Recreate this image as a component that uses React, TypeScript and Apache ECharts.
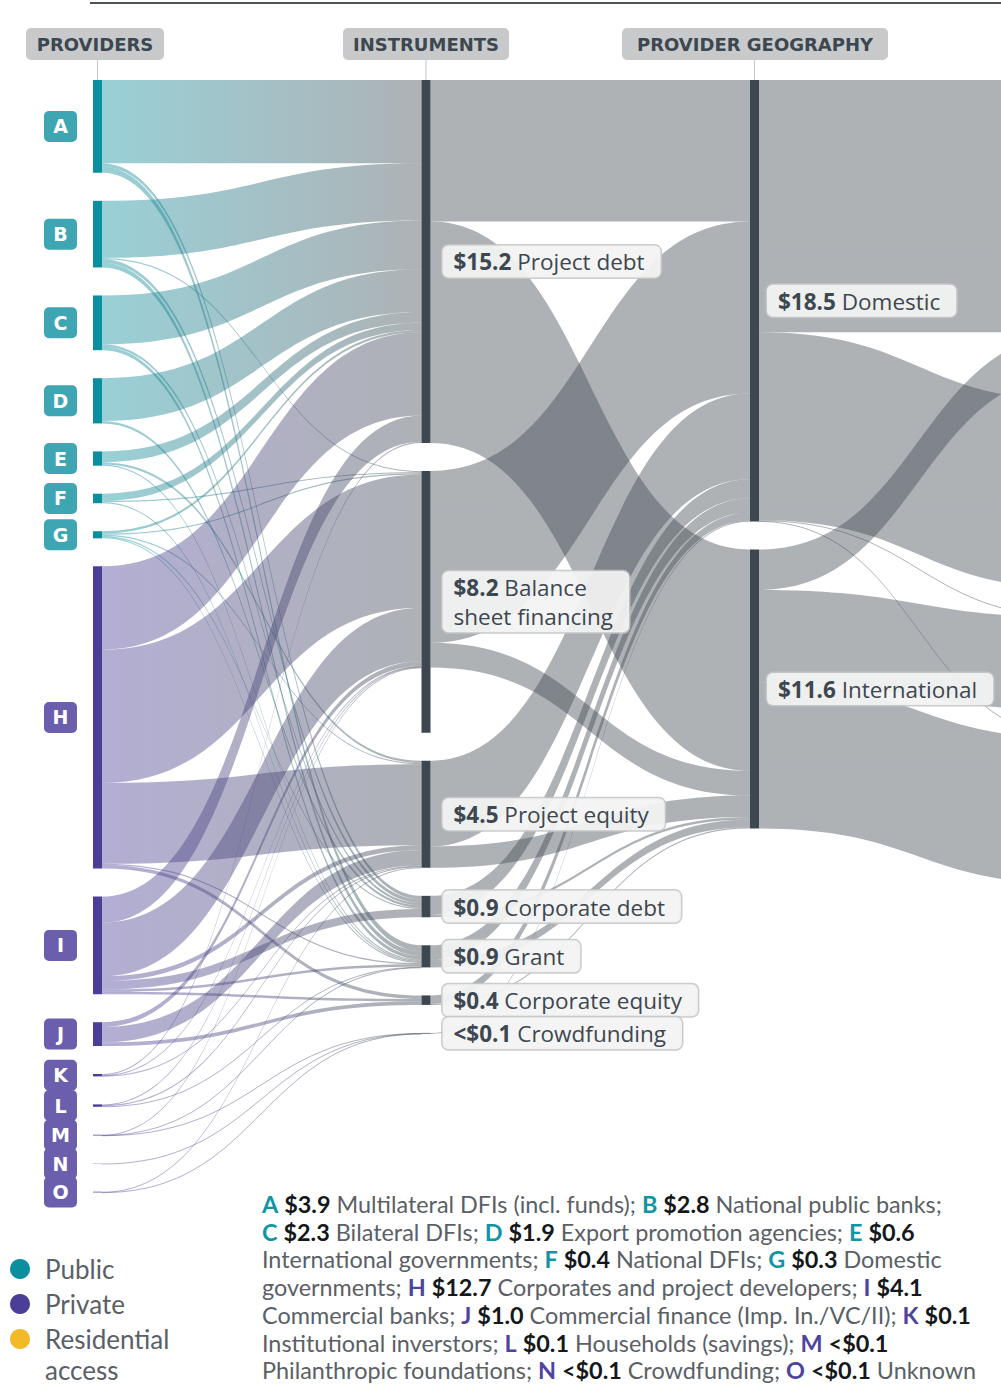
import React, { useEffect, useRef } from 'react';
import * as echarts from 'echarts';

// ---------- DATA ----------
const providerIds = ['A', 'B', 'C', 'D', 'E', 'F', 'G', 'H', 'I', 'J', 'K', 'L', 'M', 'N', 'O'];
const providerKinds = ['public', 'public', 'public', 'public', 'public', 'public', 'public',
  'private', 'private', 'private', 'private', 'private', 'private', 'private', 'private'];
const providerAmountLabels = ['$3.9', '$2.8', '$2.3', '$1.9', '$0.6', '$0.4', '$0.3', '$12.7', '$4.1', '$1.0', '$0.1', '$0.1', '<$0.1', '<$0.1', '<$0.1'];

const instrumentNames = ['Project debt', 'Balance sheet financing', 'Project equity', 'Corporate debt', 'Grant', 'Corporate equity', 'Crowdfunding'];
const instrumentDisplay = ['Project debt', 'Balance\nsheet financing', 'Project equity', 'Corporate debt', 'Grant', 'Corporate equity', 'Crowdfunding'];
const instrumentAmountLabels = ['$15.2', '$8.2', '$4.5', '$0.9', '$0.9', '$0.4', '<$0.1'];
// extent of the drawn bar in the reference (balance sheet bar includes internal gaps)
const instrumentBarExtent: (number | null)[] = [null, 11.0, null, null, null, null, null];

const geographyNames = ['Domestic', 'International'];
const geographyAmountLabels = ['$18.5', '$11.6'];

// next stage continues beyond the right edge of the picture
const destinationNames = ['Next stage 1', 'Next stage 2', 'Next stage 3', 'Next stage 4'];

const providerToInstrument: [string, string, number][] = [
  ['A', 'Project debt', 3.5], ['A', 'Corporate debt', 0.15], ['A', 'Grant', 0.25],
  ['B', 'Project debt', 2.4], ['B', 'Balance sheet financing', 0.05], ['B', 'Corporate debt', 0.15], ['B', 'Grant', 0.2],
  ['C', 'Project debt', 2.05], ['C', 'Corporate debt', 0.1], ['C', 'Grant', 0.15],
  ['D', 'Project debt', 1.8], ['D', 'Corporate debt', 0.1],
  ['E', 'Project debt', 0.45], ['E', 'Project equity', 0.1], ['E', 'Grant', 0.05],
  ['F', 'Project debt', 0.3], ['F', 'Balance sheet financing', 0.05], ['F', 'Grant', 0.05],
  ['G', 'Project debt', 0.1], ['G', 'Balance sheet financing', 0.05], ['G', 'Project equity', 0.05], ['G', 'Corporate debt', 0.05], ['G', 'Grant', 0.05],
  ['H', 'Project debt', 3.5], ['H', 'Balance sheet financing', 5.6], ['H', 'Project equity', 3.4], ['H', 'Grant', 0.05], ['H', 'Corporate equity', 0.15],
  ['I', 'Project debt', 1.1], ['I', 'Balance sheet financing', 2.25], ['I', 'Project equity', 0.2], ['I', 'Corporate debt', 0.35], ['I', 'Grant', 0.1], ['I', 'Corporate equity', 0.1],
  ['J', 'Balance sheet financing', 0.2], ['J', 'Project equity', 0.65], ['J', 'Corporate equity', 0.15],
  ['K', 'Project debt', 0.05], ['K', 'Balance sheet financing', 0.02], ['K', 'Project equity', 0.03],
  ['L', 'Balance sheet financing', 0.03], ['L', 'Project equity', 0.05], ['L', 'Grant', 0.02],
  ['M', 'Balance sheet financing', 0.01], ['M', 'Grant', 0.01], ['M', 'Crowdfunding', 0.01],
  ['N', 'Crowdfunding', 0.01],
  ['O', 'Project equity', 0.02], ['O', 'Crowdfunding', 0.01],
];

const instrumentToGeography: [string, string, number][] = [
  ['Project debt', 'Domestic', 5.95], ['Project debt', 'International', 9.3],
  ['Balance sheet financing', 'Domestic', 7.22], ['Balance sheet financing', 'International', 1.04],
  ['Project equity', 'Domestic', 3.6], ['Project equity', 'International', 0.9],
  ['Corporate debt', 'Domestic', 0.8], ['Corporate debt', 'International', 0.1],
  ['Grant', 'Domestic', 0.6], ['Grant', 'International', 0.33],
  ['Corporate equity', 'Domestic', 0.35], ['Corporate equity', 'International', 0.05],
  ['Crowdfunding', 'Domestic', 0.03],
];

const geographyToNext: [string, string, number][] = [
  ['Domestic', 'Next stage 1', 10.6], ['Domestic', 'Next stage 2', 7.9], ['Domestic', 'Next stage 3', 0.03], ['Domestic', 'Next stage 4', 0.02],
  ['International', 'Next stage 1', 1.7], ['International', 'Next stage 3', 3.9], ['International', 'Next stage 4', 6.12],
];

const headerTitles = ['PROVIDERS', 'INSTRUMENTS', 'PROVIDER GEOGRAPHY'];

const legendNames = ['Public', 'Private', 'Residential\naccess'];

const footnoteLines: string[][] = [
  ['#A', 'Multilateral DFIs (incl. funds);', '#B', 'National public banks;'],
  ['#C', 'Bilateral DFIs;', '#D', 'Export promotion agencies;', '#E'],
  ['International governments;', '#F', 'National DFIs;', '#G', 'Domestic'],
  ['governments;', '#H', 'Corporates and project developers;', '#I'],
  ['Commercial banks;', '#J', 'Commercial finance (Imp. In./VC/II);', '#K'],
  ['Institutional inverstors;', '#L', 'Households (savings);', '#M'],
  ['Philanthropic foundations;', '#N', 'Crowdfunding;', '#O', 'Unknown'],
];

// ---------- STYLE ----------
const TEAL = '#0b8f9e';
const PURPLE = '#4a3e97';
const DARK = '#3d4750';
const FONT = 'Lato';
const LABEL_FONT = 'Open Sans';
const HEAD_FONT = 'DejaVu Sans';
const KY = 23.8;
const GAP = 28;

export default function App() {
  const ref = useRef<HTMLDivElement>(null);

  useEffect(() => {
    const chart = echarts.init(ref.current!, null, { renderer: 'svg' });

    const providerTotal = providerToInstrument.reduce((s, l) => s + l[2], 0);
    const seriesHeight = providerTotal * KY + (providerIds.length - 1) * GAP;

    const letterStyle = (bg: string) => ({
      width: 33, height: 31, lineHeight: 31, align: 'center', backgroundColor: bg,
      borderRadius: 5, color: '#fff', fontSize: 19, fontWeight: 'bold', fontFamily: HEAD_FONT,
    });
    const letterRich = { public: letterStyle('#3ea6b3'), private: letterStyle('#6b5fad') };

    const LFS = 22.5;
    const boxLabel = (amount: string, text: string, distance: number) => ({
      show: true,
      position: 'right',
      distance,
      formatter: `{v|${amount}} ` + text.split('\n').map((t) => `{t|${t}}`).join('\n'),
      backgroundColor: 'rgba(243,243,243,0.93)',
      borderColor: 'rgba(196,198,200,0.9)',
      borderWidth: 1.5,
      borderRadius: 6,
      padding: [2, 16, 1, 11],
      fontSize: LFS,
      fontFamily: LABEL_FONT,
      color: DARK,
      lineHeight: 29,
      rich: {
        v: { fontSize: LFS, fontWeight: 'bold', fontFamily: LABEL_FONT, color: DARK, lineHeight: 29 },
        t: { fontSize: LFS, fontFamily: LABEL_FONT, color: DARK, lineHeight: 29 },
      },
    });

    const nodes: any[] = [];
    providerIds.forEach((id, i) => {
      nodes.push({
        name: id,
        itemStyle: { color: providerKinds[i] === 'public' ? TEAL : PURPLE },
        label: {
          show: true, position: 'left', distance: 16,
          formatter: `{${providerKinds[i]}|${id}}`, rich: letterRich,
        },
      });
    });
    instrumentNames.forEach((n, i) => {
      const node: any = { name: n, itemStyle: { color: DARK }, label: boxLabel(instrumentAmountLabels[i], instrumentDisplay[i], 12) };
      if (instrumentBarExtent[i] != null) node.value = instrumentBarExtent[i];
      nodes.push(node);
    });
    geographyNames.forEach((n, i) => {
      nodes.push({ name: n, itemStyle: { color: DARK }, label: boxLabel(geographyAmountLabels[i], n, 8) });
    });
    destinationNames.forEach((n) => {
      nodes.push({ name: n, itemStyle: { color: DARK }, label: { show: false } });
    });

    const links = [...providerToInstrument, ...instrumentToGeography, ...geographyToNext].map(
      ([source, target, value]) => ({ source, target, value })
    );

    const graphics: any[] = [];
    graphics.push({ type: 'line', shape: { x1: 90, y1: 3, x2: 1001, y2: 3 }, style: { stroke: '#4a525a', lineWidth: 2 } });
    const pills = [{ x: 26, w: 138, lx: 97.5 }, { x: 343, w: 166, lx: 426 }, { x: 622, w: 266, lx: 754.5 }];
    headerTitles.forEach((t, i) => {
      const p = pills[i];
      graphics.push({ type: 'line', shape: { x1: p.lx, y1: 60, x2: p.lx, y2: 80 }, style: { stroke: '#c4c6c8', lineWidth: 1 } });
      graphics.push({ type: 'rect', shape: { x: p.x, y: 28, width: p.w, height: 32, r: 5 }, style: { fill: '#c7c9ca' } });
      graphics.push({
        type: 'text', x: p.x + p.w / 2, y: 44,
        style: {
          text: t, align: 'center', verticalAlign: 'middle', textAlign: 'center', textVerticalAlign: 'middle',
          fill: DARK, fontSize: 18, fontWeight: 'bold', fontFamily: HEAD_FONT,
        },
      });
    });

    const legendColors = [TEAL, PURPLE, '#f2b929'];
    legendNames.forEach((n, i) => {
      const cy = 1269 + i * 35;
      graphics.push({ type: 'circle', shape: { cx: 20, cy, r: 10 }, style: { fill: legendColors[i] } });
      graphics.push({
        type: 'text', x: 45, y: cy - 16,
        style: {
          text: n, align: 'left', verticalAlign: 'top', textAlign: 'left', textVerticalAlign: 'top',
          fill: '#5a6066', fontSize: 26, fontFamily: FONT, lineHeight: 31,
        },
      });
    });

    const FS = 23.4;
    const rich = {
      pub: { fill: '#0f95a3', color: '#0f95a3', fontWeight: 'bold', fontSize: FS, fontFamily: FONT },
      pri: { fill: '#4e43a0', color: '#4e43a0', fontWeight: 'bold', fontSize: FS, fontFamily: FONT },
      amt: { fill: '#15181b', color: '#15181b', fontWeight: 'bold', fontSize: FS, fontFamily: FONT },
      d: { fill: '#5a6066', color: '#5a6066', fontSize: FS, fontFamily: FONT },
    };
    footnoteLines.forEach((tokens, li) => {
      const text = tokens.map((tok) => {
        if (tok.startsWith('#')) {
          const id = tok.slice(1);
          const k = providerIds.indexOf(id);
          const st = providerKinds[k] === 'public' ? 'pub' : 'pri';
          return `{${st}|${id}} {amt|${providerAmountLabels[k]}}`;
        }
        return `{d|${tok}}`;
      }).join('{d| }');
      graphics.push({
        type: 'text', x: 262, y: 1204 + li * 27.7,
        style: {
          text, rich, align: 'left', verticalAlign: 'middle', textAlign: 'left', textVerticalAlign: 'middle',
          fontSize: FS, fontFamily: FONT, fill: '#5a6066',
        },
      });
    });

    chart.setOption({
      animation: false,
      graphic: graphics,
      series: [
        {
          type: 'sankey',
          left: 93,
          top: 80,
          width: 994.5,
          height: seriesHeight,
          nodeWidth: 9,
          nodeGap: GAP,
          layoutIterations: 0,
          draggable: false,
          emphasis: { disabled: true },
          label: { fontFamily: LABEL_FONT },
          lineStyle: { color: 'gradient', opacity: 0.42, curveness: 0.5 },
          data: nodes,
          links,
        },
      ],
    });

    return () => chart.dispose();
  }, []);

  return <div ref={ref} style={{ position: 'absolute', left: 0, top: 0, width: 1001, height: 1385 }} />;
}
